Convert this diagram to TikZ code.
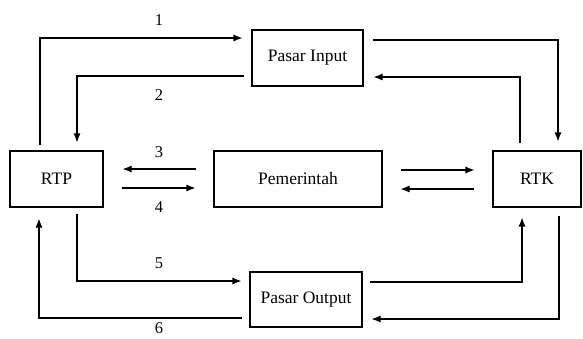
\documentclass[tikz,border=0pt]{standalone}
\usepackage{fontspec}
\setmainfont{Liberation Serif}
\usetikzlibrary{arrows.meta}
\tikzset{bx/.style = {rectangle, draw, line width=1.1pt, minimum height=56pt, inner sep=0pt, font=\fontsize{17.5}{20}\selectfont},
           nr/.style = {inner sep=0pt, font=\fontsize{16.5}{19}\selectfont}}

\begin{document}
\begin{tikzpicture}[x=1pt, y=-1pt, line width=1.1pt, >={Latex[length=9pt,width=7pt]}]
    \useasboundingbox[fill=white] (0,0) rectangle (583,338);
    \node[bx, minimum width=111pt] (inp) at (307.5,58) {Pasar Input};
    \node[bx, minimum width=93pt] (rtp) at (56.5,179) {RTP};
    \node[bx, minimum width=168pt] (pem) at (298,179) {Pemerintah};
    \node[bx, minimum width=88pt] (rtk) at (537,179) {RTK};
    \node[bx, minimum width=112pt, minimum height=55pt] (out) at (306,299.5) {Pasar Output};
    \node[nr] (l1) at (159,20) {1}; \node[nr] (l2) at (159,95) {2};
    \node[nr] (l3) at (159,152) {3}; \node[nr] (l4) at (159,207) {4};
    \node[nr] (l5) at (159,263) {5}; \node[nr] (l6) at (159,328) {6};
    \draw[->] ([xshift=-16.5pt, yshift=5pt]rtp.north) |- ([xshift=-9pt, yshift=20pt]inp.west);
    \draw[->] ([xshift=-7pt, yshift=-18pt]inp.west) -| ([xshift=20.5pt, yshift=8pt]rtp.north);
    \draw[->] ([xshift=9pt, yshift=18pt]inp.east) -| ([xshift=21pt, yshift=9pt]rtk.north);
    \draw[->] ([xshift=-17pt, yshift=7pt]rtk.north) |- ([xshift=10pt, yshift=-19pt]inp.east);
    \draw[->] ([xshift=-17pt, yshift=10pt]pem.west) -- ([xshift=19pt, yshift=10pt]rtp.east);
    \draw[->] ([xshift=18pt, yshift=-9pt]rtp.east) -- ([xshift=-18pt, yshift=-9pt]pem.west);
    \draw[->] ([xshift=18pt, yshift=9pt]pem.east) -- ([xshift=-18pt, yshift=9pt]rtk.west);
    \draw[->] ([xshift=-18pt, yshift=-10pt]rtk.west) -- ([xshift=18pt, yshift=-10pt]pem.east);
    \draw[->] ([xshift=20.5pt, yshift=-6pt]rtp.south) |- ([xshift=-8pt, yshift=18.5pt]out.west);
    \draw[->] ([xshift=-7pt, yshift=-18.5pt]out.west) -| ([xshift=-17.5pt, yshift=-11pt]rtp.south);
    \draw[->] ([xshift=7pt, yshift=17.5pt]out.east) -| ([xshift=-15pt, yshift=-10pt]rtk.south);
    \draw[->] ([xshift=22pt, yshift=-8pt]rtk.south) |- ([xshift=9pt, yshift=-19.5pt]out.east);
  \end{tikzpicture}
\end{document}
